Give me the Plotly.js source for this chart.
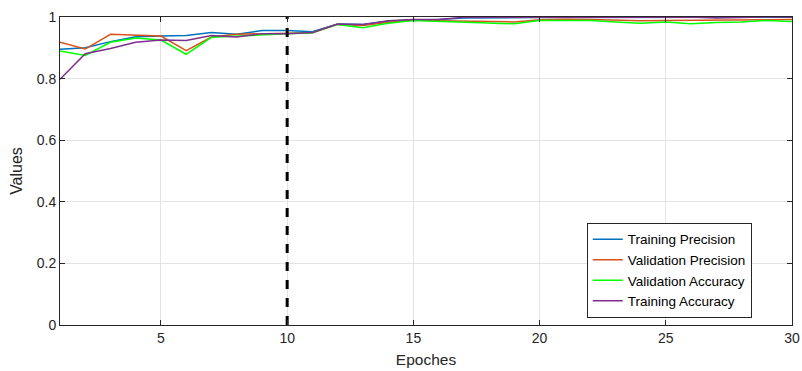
<!DOCTYPE html>
<html>
<head>
<meta charset="utf-8">
<script src="https://cdn.plot.ly/plotly-3.0.1.min.js"></script>
<style>html,body{margin:0;padding:0;background:#fff;}#chart{width:802px;height:371px;}</style>
</head>
<body>
<div id="chart"></div>
<script>
const epochs = [1,2,3,4,5,6,7,8,9,10,11,12,13,14,15,16,17,18,19,20,21,22,23,24,25,26,27,28,29,30];
const trainPrecision = [0.895,0.900,0.920,0.936,0.938,0.940,0.950,0.944,0.956,0.956,0.952,0.977,0.976,0.986,0.991,0.992,0.997,0.998,0.998,0.998,0.998,0.998,0.998,0.999,0.999,0.999,0.998,0.999,0.999,0.999];
const valPrecision = [0.918,0.896,0.944,0.941,0.938,0.891,0.935,0.944,0.946,0.948,0.949,0.976,0.972,0.983,0.990,0.988,0.987,0.986,0.984,0.991,0.993,0.992,0.990,0.988,0.989,0.990,0.991,0.992,0.993,0.992];
const valAccuracy = [0.890,0.875,0.918,0.932,0.925,0.879,0.934,0.938,0.944,0.946,0.949,0.976,0.965,0.980,0.989,0.986,0.984,0.982,0.978,0.989,0.990,0.989,0.984,0.980,0.984,0.978,0.982,0.984,0.989,0.985];
const trainAccuracy = [0.798,0.881,0.898,0.918,0.925,0.924,0.940,0.935,0.946,0.946,0.950,0.977,0.976,0.988,0.992,0.992,0.999,0.999,0.999,0.999,0.999,0.999,0.999,0.999,0.999,1.000,0.997,0.999,1.000,1.000];
const splitEpoch = 10;
const xTicks = [5,10,15,20,25,30];
const yTicks = [0,0.2,0.4,0.6,0.8,1];
const yTickText = ['0','0.2','0.4','0.6','0.8','1'];

const series = [
  {name:'Training Precision', y:trainPrecision, color:'#0072BD'},
  {name:'Validation Precision', y:valPrecision, color:'#D95319'},
  {name:'Validation Accuracy', y:valAccuracy, color:'#00FF00'},
  {name:'Training Accuracy', y:trainAccuracy, color:'#7E2F8E'}
];
const traces = series.map(s => ({
  type:'scatter', mode:'lines', x:epochs, y:s.y, name:s.name,
  line:{color:s.color, width:1.5}
}));
traces.push({
  type:'scatter', mode:'lines', x:[splitEpoch, splitEpoch], y:[0,1],
  line:{color:'#000', width:3, dash:'dash'}, showlegend:false, hoverinfo:'skip'
});

const axisCommon = {
  showline:true, linecolor:'#262626', linewidth:1, mirror:'ticks',
  ticks:'inside', ticklen:5, tickcolor:'#262626',
  showgrid:true, gridcolor:'#e3e3e3', gridwidth:1, zeroline:false,
  tickfont:{family:'Liberation Sans, Arial, sans-serif', size:14, color:'#262626'}
};
const layout = {
  width:802, height:371,
  margin:{l:60, r:10, t:17, b:46},
  paper_bgcolor:'#fff', plot_bgcolor:'#fff',
  font:{family:'Liberation Sans, Arial, sans-serif', color:'#262626'},
  xaxis:Object.assign({}, axisCommon, {
    range:[1,30], tickvals:xTicks,
    title:{text:'Epoches', font:{size:15.5, color:'#262626'}, standoff:9}
  }),
  yaxis:Object.assign({}, axisCommon, {
    range:[0,1], tickvals:yTicks, ticktext:yTickText,
    title:{text:'Values', font:{size:16, color:'#262626'}, standoff:10}
  }),
  legend:{
    x:0.945, y:0.023, xanchor:'right', yanchor:'bottom',
    bgcolor:'#fff', bordercolor:'#262626', borderwidth:1,
    font:{size:13.5, color:'#000'}, tracegroupgap:0
  },
  showlegend:true
};
Plotly.newPlot('chart', traces, layout, {displayModeBar:false, staticPlot:true});
</script>
</body>
</html>
